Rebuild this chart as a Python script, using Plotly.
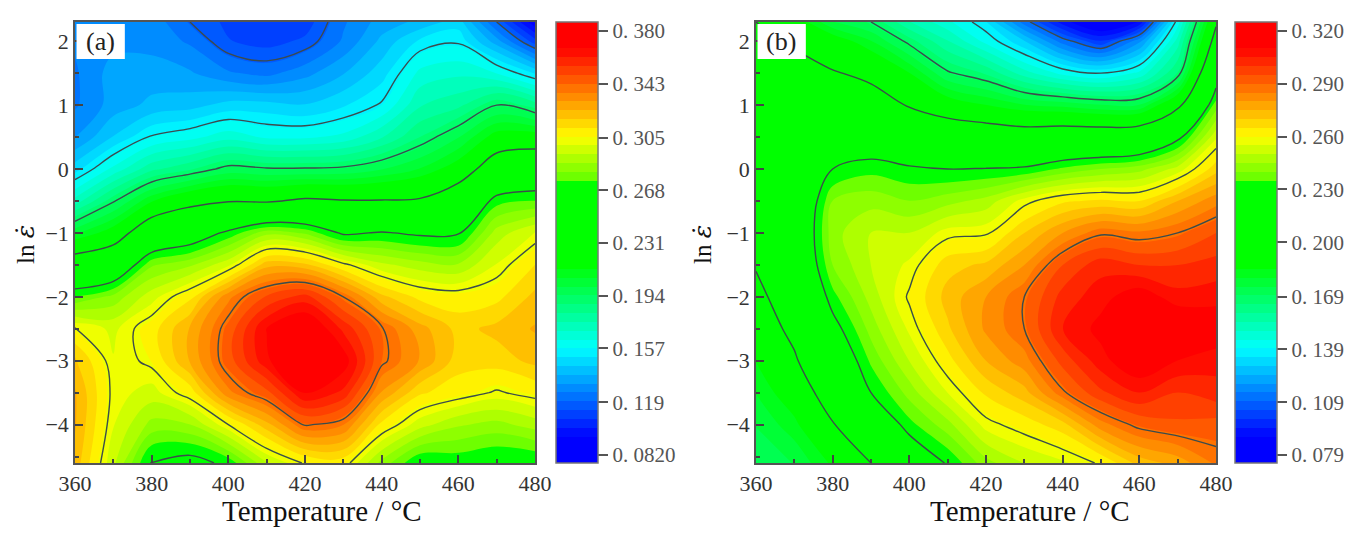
"""Mapas de contorno (a) y (b): ln(strain rate) frente a temperatura."""

import plotly.graph_objects as go

SERIF = "Liberation Serif"
TEMPS = [360, 370, 380, 390, 400, 410, 420, 430, 440, 450, 460, 470, 480]
LN_RATE = [2.3, 2, 1.5, 1, 0.5, 0, -0.5, -1, -1.5, -2, -2.5, -3, -3.5, -4, -4.6]

A_360 = [.128, .127, .125, .125, .132, .148, .172, .205, .243, .275, .305, .320, .325, .325, .322]
A_370 = [.130, .130, .135, .135, .145, .165, .192, .218, .250, .283, .298, .300, .302, .300, .295]
A_380 = [.130, .130, .135, .140, .157, .180, .212, .247, .280, .297, .309, .306, .297, .285, .266]
A_390 = [.119, .125, .133, .142, .161, .187, .224, .256, .286, .310, .325, .325, .308, .287, .262]
A_400 = [.112, .114, .127, .147, .167, .196, .229, .270, .298, .335, .345, .346, .335, .304, .270]
A_410 = [.108, .111, .124, .147, .162, .194, .228, .285, .322, .350, .368, .366, .347, .322, .293]
A_420 = [.110, .115, .130, .145, .162, .194, .233, .280, .320, .358, .378, .383, .368, .342, .305]
A_430 = [.125, .127, .138, .150, .165, .195, .231, .265, .306, .341, .360, .372, .360, .337, .308]
A_440 = [.135, .140, .148, .157, .175, .200, .231, .268, .295, .320, .342, .343, .330, .310, .285]
A_450 = [.140, .152, .165, .175, .188, .207, .232, .265, .290, .310, .327, .330, .313, .296, .268]
A_460 = [.148, .155, .168, .180, .200, .218, .245, .266, .288, .308, .316, .315, .308, .288, .270]
A_470 = [.119, .135, .163, .193, .217, .243, .272, .290, .300, .310, .320, .315, .303, .285, .267]
A_480 = [.090, .110, .150, .185, .218, .250, .275, .300, .312, .320, .325, .320, .307, .290, .268]
Z_A = [A_360, A_370, A_380, A_390, A_400, A_410, A_420, A_430, A_440, A_450, A_460, A_470, A_480]

B_360 = [.199, .203, .207, .210, .212, .212, .210, .206, .200, .195, .190, .185, .180, .175, .171]
B_370 = [.190, .197, .205, .213, .213, .213, .213, .214, .213, .208, .203, .197, .190, .183, .175]
B_380 = [.175, .190, .200, .208, .218, .229, .240, .243, .240, .233, .225, .217, .207, .198, .186]
B_390 = [.169, .180, .196, .205, .220, .233, .243, .250, .250, .247, .242, .236, .229, .216, .199]
B_400 = [.155, .167, .185, .198, .215, .2305, .240, .250, .256, .260, .256, .250, .242, .233, .218]
B_410 = [.146, .155, .170, .190, .212, .229, .243, .257, .268, .272, .269, .263, .255, .243, .230]
B_420 = [.135, .143, .164, .185, .210, .2295, .247, .258, .271, .280, .281, .275, .266, .257, .243]
B_430 = [.112, .130, .152, .180, .208, .2305, .257, .270, .280, .289, .289, .283, .273, .262, .250]
B_440 = [.092, .112, .143, .178, .210, .236, .264, .280, .295, .302, .305, .297, .288, .268, .254]
B_450 = [.080, .100, .139, .175, .210, .240, .266, .288, .303, .308, .312, .308, .299, .283, .260]
B_460 = [.090, .118, .146, .175, .212, .243, .265, .286, .300, .314, .320, .316, .305, .291, .272]
B_470 = [.142, .152, .165, .195, .226, .252, .275, .289, .300, .307, .318, .310, .300, .294, .277]
B_480 = [.197, .205, .222, .237, .254, .268, .283, .295, .302, .308, .315, .307, .303, .293, .286]
Z_B = [B_360, B_370, B_380, B_390, B_400, B_410, B_420, B_430, B_440, B_450, B_460, B_470, B_480]

TICKS_A = [0.082, 0.119, 0.157, 0.194, 0.231, 0.268, 0.305, 0.343, 0.380]
TICKS_B = [0.079, 0.109, 0.139, 0.169, 0.200, 0.230, 0.260, 0.290, 0.320]
LABELS_A = ["0. 0820", "0. 119", "0. 157", "0. 194", "0. 231", "0. 268", "0. 305", "0. 343", "0. 380"]
LABELS_B = ["0. 079", "0. 109", "0. 139", "0. 169", "0. 200", "0. 230", "0. 260", "0. 290", "0. 320"]

COLORSCALE = [
    [0, "#0000ff"], [0.06, "#0000ff"], [0.26, "#00ffff"], [0.45, "#00ff00"],
    [0.64, "#00ff00"], [0.645, "#66ff00"], [0.74, "#ffff00"], [0.94, "#ff0000"], [1, "#ff0000"],
]

# La pagina deja 8 px de margen en el body: la figura se dibuja 16 px mas pequena
PAGE_MARGIN = 8
W, H = 1362 - 2 * PAGE_MARGIN, 541 - 2 * PAGE_MARGIN
PLOT_TOP, PLOT_BOTTOM = 22, 463


def fx(px):
    return (px - PAGE_MARGIN) / W


def fy(py):
    return 1 - (py - PAGE_MARGIN) / H


def add_panel(fig, z, ticks, labels, xaxis, yaxis, bar_left):
    step = ticks[1] - ticks[0]
    zmin = ticks[0] - 0.15 * (ticks[-1] - ticks[0]) / 8
    zmax = ticks[-1] + 0.17 * (ticks[-1] - ticks[0]) / 8
    size = (zmax - zmin) / 50
    fig.add_trace(go.Contour(
        x=TEMPS, y=LN_RATE, z=z, transpose=True, xaxis=xaxis, yaxis=yaxis,
        colorscale=COLORSCALE, zauto=False, zmin=zmin, zmax=zmax,
        contours=dict(coloring="fill", start=zmin, end=zmax, size=size),
        line=dict(width=0, smoothing=1), hoverinfo="skip",
        colorbar=dict(
            x=fx(bar_left), xanchor="left", xref="paper", thickness=42, thicknessmode="pixels",
            y=fy(PLOT_BOTTOM), yanchor="bottom", len=(PLOT_BOTTOM - PLOT_TOP) / H, lenmode="fraction",
            ypad=0, xpad=0, tickmode="array", tickvals=ticks, ticktext=labels,
            ticks="outside", ticklen=10, tickcolor="#555555", tickwidth=1.5,
            outlinecolor="#777777", outlinewidth=1.5,
            tickfont=dict(family=SERIF, size=21, color="#555555"),
        ),
    ))
    # Isolineas en los valores de la escala
    fig.add_trace(go.Contour(
        x=TEMPS, y=LN_RATE, z=z, transpose=True, xaxis=xaxis, yaxis=yaxis, showscale=False,
        contours=dict(coloring="none", start=ticks[1], end=ticks[-2], size=step),
        line=dict(color="#3c4c4c", width=1.4, smoothing=1), hoverinfo="skip",
    ))


fig = go.Figure()
add_panel(fig, Z_A, TICKS_A, LABELS_A, "x", "y", 556)
add_panel(fig, Z_B, TICKS_B, LABELS_B, "x2", "y2", 1235)

axis_style = dict(
    showgrid=False, zeroline=False, showline=True, mirror=True, automargin=False,
    linecolor="#555555", linewidth=1.5, ticks="inside", ticklen=8, tickcolor="#444444", tickwidth=1.5,
    tickfont=dict(family=SERIF, size=22, color="#333333"),
)
y_domain = [fy(PLOT_BOTTOM), fy(PLOT_TOP)]
for name, left, right in [("", 75, 535), ("2", 756, 1216)]:
    fig.update_layout({
        f"xaxis{name}": dict(
            axis_style, domain=[fx(left), fx(right)], range=[360, 480], dtick=20, tick0=360,
            anchor=f"y{name}",
            minor=dict(ticks="inside", dtick=10, ticklen=4, tickcolor="#444444"),
        ),
        f"yaxis{name}": dict(
            axis_style, domain=y_domain, range=[-4.6, 2.3], anchor=f"x{name}",
            minor=dict(ticks="inside", dtick=0.5, ticklen=4, tickcolor="#444444"),
            tickvals=[-4, -3, -2, -1, 0, 1, 2], ticktext=["−4", "−3", "−2", "−1", "0", "1", "2"],
        ),
    })

for xref, yref, label in [("x", "y", "(a)"), ("x2", "y2", "(b)")]:
    fig.add_shape(type="rect", xref=xref, yref=yref, x0=360.4, x1=373, y0=1.72, y1=2.27,
                  fillcolor="white", line_width=0, layer="above")
    fig.add_annotation(xref=xref, yref=yref, x=366.6, y=2.0, text=label, showarrow=False,
                       font=dict(family=SERIF, size=26, color="#222222"))

# Titulos de eje como anotaciones: en el original no estan centrados en el panel
for cx in (322, 1030):
    fig.add_annotation(xref="paper", yref="paper", x=fx(cx), y=fy(511), text="Temperature / °C",
                       xanchor="center", yanchor="middle",
                       showarrow=False, font=dict(family=SERIF, size=29, color="#111111"))
for cx in (26, 703):
    fig.add_annotation(xref="paper", yref="paper", x=fx(cx), y=fy(245), textangle=-90,
                       xanchor="center", yanchor="middle",
                       text='ln <span style="font-family:DejaVu Serif"><i>ε̇</i></span>',
                       showarrow=False, font=dict(family=SERIF, size=25, color="#111111"))

fig.update_layout(
    width=W, height=H, margin=dict(l=0, r=0, t=0, b=0, autoexpand=False),
    paper_bgcolor="white", plot_bgcolor="white", showlegend=False,
)
fig.write_html("out.html")
